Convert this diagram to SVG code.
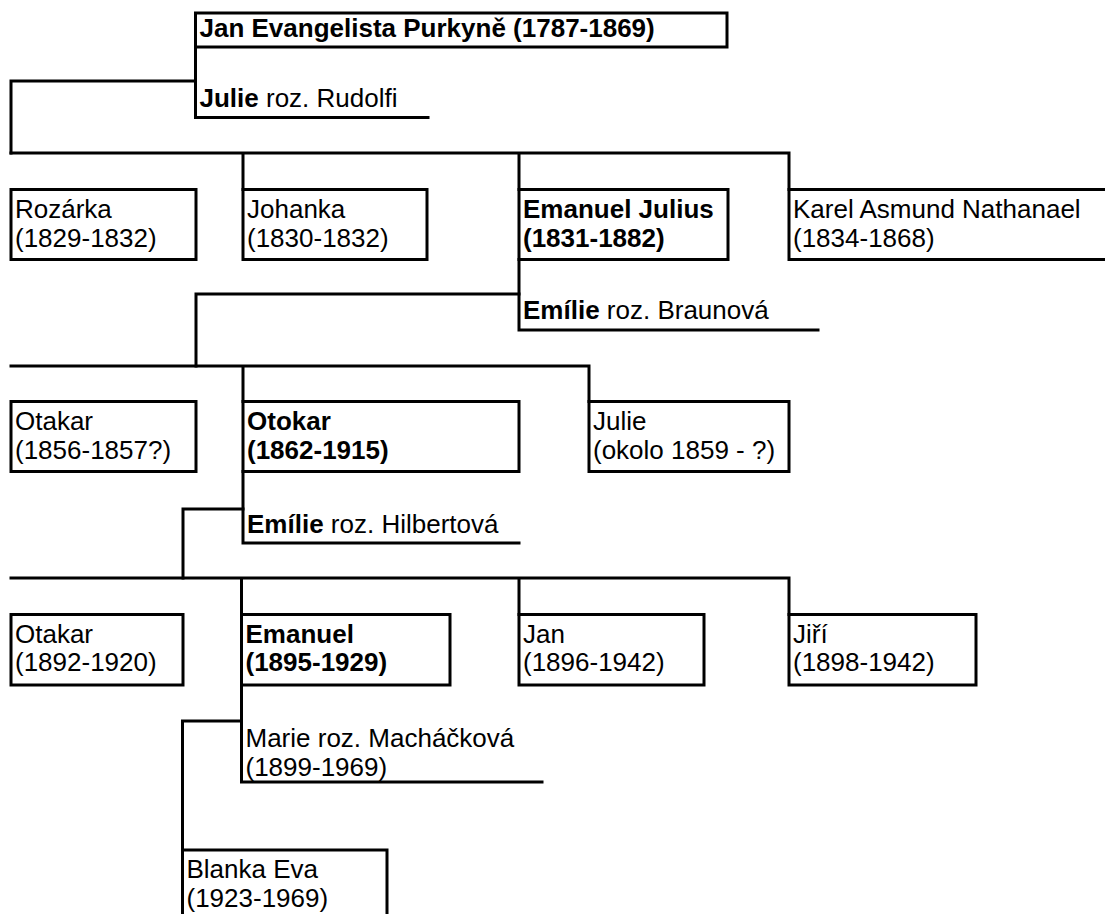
<svg xmlns="http://www.w3.org/2000/svg" width="1105" height="914" viewBox="0 0 1105 914">
<style>
.bx{fill:none;stroke:#000;stroke-width:3;stroke-linecap:square;stroke-linejoin:miter}
.cn{fill:none;stroke:#000;stroke-width:3;stroke-linecap:square;stroke-linejoin:miter}
text{font-family:"Liberation Sans",Arial,sans-serif;font-size:26px;fill:#000}
.bd{font-weight:bold}
</style>
<rect width="1105" height="914" fill="#fff"/>
<g id="connectors">
<path class="cn" d="M195.5,81 H11 V153"/>
<path class="cn" d="M11,153 H789 M243,153 V189.5 M519,153 V189.5 M789,153 V189.5"/>
<path class="cn" d="M519,294 H196 V366"/>
<path class="cn" d="M11,366 H589 M243,366 V401.5 M589,366 V401.5"/>
<path class="cn" d="M243,509 H183 V578"/>
<path class="cn" d="M11,578 H789 M241.5,578 V614.5 M519,578 V614.5 M789,578 V614.5"/>
<path class="cn" d="M241.5,721 H182.5 V850"/>
</g>
<g id="jan-purkyne">
<rect class="bx" x="195.5" y="13" width="531.5" height="34"/>
<path class="bx" d="M195.5,47 V117.5 H428"/>
<text x="199.5" y="37" class="bd">Jan Evangelista Purkyně (1787-1869)</text>
<text x="199.5" y="107"><tspan class="bd">Julie</tspan> roz. Rudolfi</text>
</g>
<g id="rozarka">
<rect class="bx" x="11" y="189.5" width="185" height="70"/>
<text x="15" y="217.5">Rozárka</text>
<text x="15" y="246.5">(1829-1832)</text>
</g>
<g id="johanka">
<rect class="bx" x="243" y="189.5" width="184" height="70"/>
<text x="247" y="217.5">Johanka</text>
<text x="247" y="246.5">(1830-1832)</text>
</g>
<g id="emanuel-julius">
<rect class="bx" x="519" y="189.5" width="209" height="70"/>
<path class="bx" d="M519,259.5 V330 H818"/>
<text x="523" y="217.5" class="bd">Emanuel Julius</text>
<text x="523" y="246.5" class="bd">(1831-1882)</text>
<text x="523" y="319"><tspan class="bd">Emílie</tspan> roz. Braunová</text>
</g>
<g id="karel">
<path class="bx" d="M1108,189.5 H789 V259.5 H1108"/>
<text x="793" y="217.5">Karel Asmund Nathanael</text>
<text x="793" y="246.5">(1834-1868)</text>
</g>
<g id="otakar-1856">
<rect class="bx" x="11" y="401.5" width="185" height="70"/>
<text x="15" y="429.5">Otakar</text>
<text x="15" y="458.5">(1856-1857?)</text>
</g>
<g id="otokar">
<rect class="bx" x="243" y="401.5" width="276" height="70"/>
<path class="bx" d="M243,471.5 V543 H519"/>
<text x="247" y="429.5" class="bd">Otokar</text>
<text x="247" y="458.5" class="bd">(1862-1915)</text>
<text x="247" y="533"><tspan class="bd">Emílie</tspan> roz. Hilbertová</text>
</g>
<g id="julie">
<rect class="bx" x="589" y="401.5" width="200" height="70"/>
<text x="593" y="429.5">Julie</text>
<text x="593" y="458.5">(okolo 1859 - ?)</text>
</g>
<g id="otakar-1892">
<rect class="bx" x="11" y="614.5" width="172" height="70.5"/>
<text x="15" y="642.5">Otakar</text>
<text x="15" y="671">(1892-1920)</text>
</g>
<g id="emanuel">
<rect class="bx" x="241.5" y="614.5" width="208.5" height="70.5"/>
<path class="bx" d="M241.5,685 V782 H542"/>
<text x="245.5" y="642.5" class="bd">Emanuel</text>
<text x="245.5" y="671" class="bd">(1895-1929)</text>
<text x="245.5" y="747">Marie roz. Macháčková</text>
<text x="245.5" y="776">(1899-1969)</text>
</g>
<g id="jan">
<rect class="bx" x="519" y="614.5" width="185" height="70.5"/>
<text x="523" y="642.5">Jan</text>
<text x="523" y="671">(1896-1942)</text>
</g>
<g id="jiri">
<rect class="bx" x="789" y="614.5" width="187" height="70.5"/>
<text x="793" y="642.5">Jiří</text>
<text x="793" y="671">(1898-1942)</text>
</g>
<g id="blanka">
<path class="bx" d="M182.5,920 V850 H387 V920"/>
<text x="186.5" y="878">Blanka Eva</text>
<text x="186.5" y="907">(1923-1969)</text>
</g>
</svg>
